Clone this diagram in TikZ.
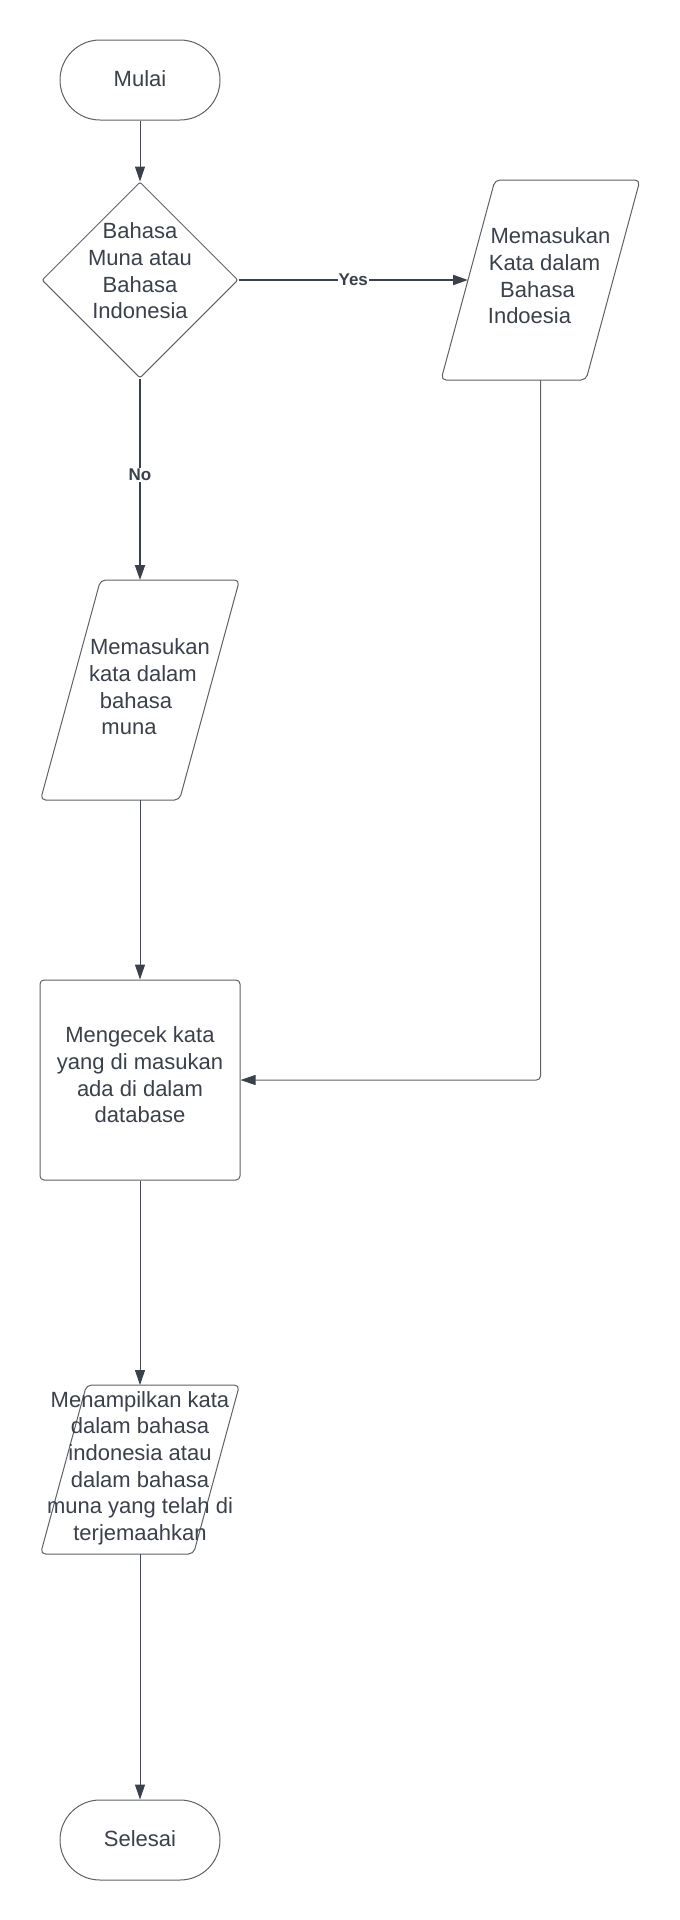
\documentclass[tikz,border=0pt]{standalone}
\usepackage{fontspec}
\setmainfont{Liberation Sans}
\usetikzlibrary{shapes.geometric,arrows.meta}
\definecolor{txt}{HTML}{3A414A}
\definecolor{brd}{HTML}{5E6166}
\definecolor{lin}{HTML}{474C54}
\begin{document}
\begin{tikzpicture}[x=1pt,y=-1pt,
  every node/.style={font=\fontsize{22}{26.6}\selectfont, text=txt},
  shp/.style={draw=brd, line width=1pt},
  term/.style={shp, rounded corners=40pt, minimum width=160pt, minimum height=80pt, inner sep=0pt},
  box/.style={inner sep=0pt, outer sep=0pt},
  tx/.style={align=center, inner sep=0pt},
  conn/.style={draw=lin, line width=1pt, -{Triangle[length=15pt,width=10pt,color=txt]}},
  bconn/.style={conn, draw=txt, line width=2pt},
  gconn/.style={draw=brd, line width=1pt, rounded corners=4pt, -{Triangle[length=15pt,width=10pt,color=txt]}},
  lbl/.style={font=\bfseries\fontsize{17}{20}\selectfont, fill=white, inner sep=1pt, text=txt}
]
\fill[white] (0,0) rectangle (680,1920);
\useasboundingbox (0,0) rectangle (680,1920);

% start
\node[term] (start) at (140,80) {\raisebox{3pt}{Mulai}};

% decision
\node[diamond, shp, minimum width=196pt, minimum height=196pt, inner sep=0pt, rounded corners=2pt] (dec) at (140,280) {};
\node[tx] (dect) at ([yshift=9pt]dec.center) {Bahasa\\Muna atau\\Bahasa\\Indonesia};

% input Indonesian (right)
\node[box, minimum width=145pt, minimum height=200pt] (inK) at (540.5,280) {};
\draw[shp, rounded corners=5pt] ([xshift=-27pt]inK.south west) -- ([xshift=-27pt]inK.south east) -- ([xshift=27pt]inK.north east) -- ([xshift=27pt]inK.north west) -- cycle;
\node[tx] (inKt) at ([yshift=4pt]inK.center) {\hspace*{20pt}Memasukan\\\hspace*{8pt}Kata dalam\\Bahasa\hspace*{6pt}\mbox{}\\Indoesia\hspace*{22pt}\mbox{}};

% input Muna (left)
\node[box, minimum width=139pt, minimum height=220pt] (inM) at (140,690) {};
\draw[shp, rounded corners=5pt] ([xshift=-30pt]inM.south west) -- ([xshift=-30pt]inM.south east) -- ([xshift=30pt]inM.north east) -- ([xshift=30pt]inM.north west) -- cycle;
\node[tx] (inMt) at ([yshift=3pt]inM.center) {\hspace*{20pt}Memasukan\\\hspace*{6pt}kata dalam\\bahasa\hspace*{8pt}\mbox{}\\muna\hspace*{22pt}\mbox{}};

% check
\node[shp, rounded corners=4pt, minimum width=200pt, minimum height=200pt, inner sep=0pt] (chk) at (140,1080) {};
\node[tx] (chkt) at ([yshift=5pt]chk.center) {Mengecek kata\\yang di masukan\\ada di dalam\\database};

% output
\node[box, minimum width=153pt, minimum height=169pt] (outP) at (140,1469.5) {};
\draw[shp, rounded corners=5pt] ([xshift=-23pt]outP.south west) -- ([xshift=-23pt]outP.south east) -- ([xshift=23pt]outP.north east) -- ([xshift=23pt]outP.north west) -- cycle;
\node[tx] (outt) at ([yshift=1.5pt]outP.center) {Menampilkan kata\\dalam bahasa\\indonesia atau\\dalam bahasa\\muna yang telah di\\terjemaahkan};

% end
\node[term] (stop) at (140,1840) {\raisebox{3pt}{Selesai}};

% connectors
\draw[conn] (start.south) -- (dec.north);
\draw[bconn] (dec.east) -- node[lbl] (yes) {Yes} (inK.west);
\draw[bconn] (dec.south) -- node[lbl, pos=0.48] (no) {No} (inM.north);
\draw[conn] (inM.south) -- (chk.north);
\draw[gconn] (inK.south) |- (chk.east);
\draw[conn] (chk.south) -- (outP.north);
\draw[conn] (outP.south) -- (stop.north);
\end{tikzpicture}
\end{document}
